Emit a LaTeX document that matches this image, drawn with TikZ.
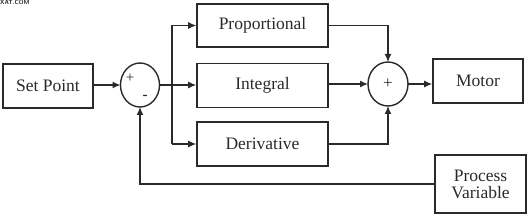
\documentclass[tikz,border=0pt]{standalone}
\usepackage{fontspec}
\setmainfont{Liberation Serif}
\usetikzlibrary{arrows.meta}
\definecolor{ink}{HTML}{2A2A2A}
\begin{document}
\begin{tikzpicture}[x=1pt,y=-1pt,
  blk/.style={draw=ink,line width=1.6pt,rectangle,inner sep=0pt,font=\fontsize{17.5}{19}\selectfont,text=ink,align=center},
  sumc/.style={draw=ink,line width=1.4pt},
  wire/.style={draw=ink,line width=1.2pt},
  arr/.style={wire,-{Latex[length=8pt,width=7pt]}}]
\useasboundingbox (0,0) rectangle (528,216);
\node[anchor=north west,font=\sffamily\bfseries\fontsize{6}{6}\selectfont,inner sep=0pt,text=ink] (wm) at (0,0.5) {XAT.COM};
\node[blk,minimum width=90pt,minimum height=44pt] (sp) at (48,86) {Set Point};
\draw[sumc] (140,85) ellipse [x radius=19.5pt,y radius=22pt];
\coordinate (s1) at (140,85);
\coordinate (s1w) at (120.5,85);
\coordinate (s1e) at (159.5,85);
\coordinate (s1s) at (140,107);
\node[font=\fontsize{15}{15}\selectfont,text=ink,inner sep=0pt] (plus1) at (130,78) {+};
\node[font=\fontsize{15}{15}\selectfont\bfseries,text=ink,inner sep=0pt] (minus1) at (145,97) {-};
\node[blk,minimum width=131pt,minimum height=43pt] (P) at (262.5,25.5) {Proportional};
\node[blk,minimum width=131pt,minimum height=44pt] (I) at (262.5,85.5) {Integral};
\node[blk,minimum width=131pt,minimum height=44pt] (D) at (262.5,144) {Derivative};
\draw[sumc] (388,84) ellipse [x radius=20pt,y radius=22pt];
\coordinate (s2w) at (368,84);
\coordinate (s2e) at (408,84);
\coordinate (s2n) at (388,62);
\coordinate (s2s) at (388,106);
\node[font=\fontsize{17}{17}\selectfont,text=ink,inner sep=0pt] (plus2) at (388,84) {+};
\node[blk,minimum width=90pt,minimum height=44pt] (M) at (478,81) {Motor};
\node[blk,minimum width=91pt,minimum height=58pt] (PV) at (480.5,184) {Process\\[-2pt]Variable};
\coordinate (br) at (172,85);
\draw[arr] (sp.east |- s1w) -- (s1w);
\draw[wire] (s1e) -- (br);
\draw[arr] (br) -- (I.west |- br);
\draw[wire] (172,25.5) -- (172,144);
\draw[arr] (172,25.5) -- (P.west);
\draw[arr] (172,144) -- (D.west);
\draw[arr] (P.east) -| (s2n);
\draw[arr] (I.east |- s2w) -- (s2w);
\draw[arr] (D.east) -| (s2s);
\draw[arr] (s2e) -- (M.west |- s2e);
\draw[arr] (PV.west |- 0,184) -| (s1s);
\end{tikzpicture}
\end{document}
